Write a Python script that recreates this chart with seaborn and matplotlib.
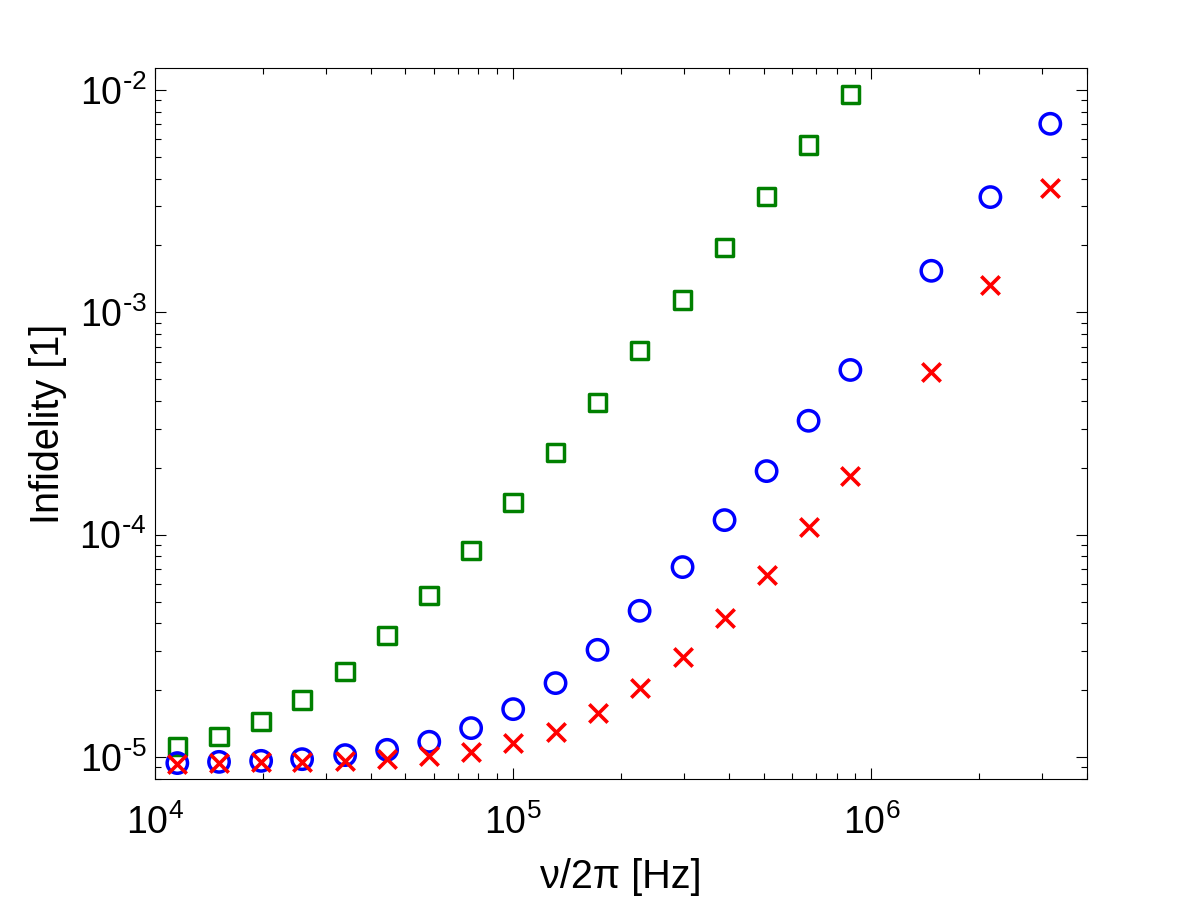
import numpy as np
import pandas as pd
import matplotlib
matplotlib.use("Agg")
import matplotlib.pyplot as plt
from matplotlib.ticker import FuncFormatter
import seaborn as sns

# frequencies nu/2pi [Hz]
freq = [1.154e4, 1.509e4, 1.978e4, 2.574e4, 3.395e4, 4.446e4, 5.83e4, 7.63e4,
        1.0e5, 1.313e5, 1.72e5, 2.254e5, 2.971e5, 3.892e5, 5.1e5, 6.68e5,
        8.74e5, 1.471e6, 2.15e6, 3.16e6]

# green squares (stop at 8.74e5)
infid_square = [1.115e-5, 1.237e-5, 1.444e-5, 1.808e-5, 2.424e-5, 3.521e-5,
                5.33e-5, 8.49e-5, 1.396e-4, 2.343e-4, 3.93e-4, 6.74e-4,
                1.14e-3, 1.958e-3, 3.32e-3, 5.67e-3, 9.53e-3]

# blue circles
infid_circle = [9.39e-6, 9.51e-6, 9.61e-6, 9.78e-6, 1.020e-5, 1.077e-5,
                1.171e-5, 1.349e-5, 1.642e-5, 2.15e-5, 3.034e-5, 4.546e-5,
                7.15e-5, 1.163e-4, 1.932e-4, 3.254e-4, 5.507e-4, 1.538e-3,
                3.30e-3, 7.05e-3]

# red crosses
infid_cross = [9.32e-6, 9.39e-6, 9.45e-6, 9.51e-6, 9.61e-6, 9.78e-6,
               1.012e-5, 1.058e-5, 1.155e-5, 1.302e-5, 1.575e-5, 2.042e-5,
               2.83e-5, 4.214e-5, 6.60e-5, 1.082e-4, 1.827e-4, 5.42e-4,
               1.331e-3, 3.62e-3]

sns.set_style("ticks", {"xtick.direction": "in", "ytick.direction": "in"})
plt.rcParams["font.family"] = ["Liberation Sans", "DejaVu Sans"]
plt.rcParams["axes.unicode_minus"] = False
plt.rcParams["mathtext.default"] = "regular"
plt.rcParams["text.color"] = "black"
plt.rcParams["axes.labelcolor"] = "black"

df_sq = pd.DataFrame({"x": freq[:len(infid_square)], "y": infid_square})
df_ci = pd.DataFrame({"x": freq, "y": infid_circle})
df_cr = pd.DataFrame({"x": freq, "y": infid_cross})

fig = plt.figure(figsize=(12, 9), dpi=100)
ax = fig.add_axes([0.1292, 0.1344, 0.7766, 0.79])

sns.scatterplot(data=df_sq, x="x", y="y", ax=ax, marker="s", s=160,
                facecolors="none", edgecolors=(0, 0.5, 0), linewidths=2.5)
sns.scatterplot(data=df_ci, x="x", y="y", ax=ax, marker="o", s=215,
                facecolors="none", edgecolors=(0, 0, 1), linewidths=2.5)
sns.scatterplot(data=df_cr, x="x", y="y", ax=ax, marker="x", s=175,
                color=(1, 0, 0), linewidths=2.6)

ax.set_xscale("log")
ax.set_yscale("log")
ax.set_xlim(1e4, 4e6)
ax.set_ylim(7.96e-6, 1.256e-2)


def pow10(v, pos):
    e = int(round(np.log10(v)))
    if e < 0:
        return r"$10^{\text{-}%d}$" % (-e)
    return r"$10^{%d}$" % e


ax.xaxis.set_major_formatter(FuncFormatter(pow10))
ax.yaxis.set_major_formatter(FuncFormatter(pow10))

for sp in ax.spines.values():
    sp.set_linewidth(0.8)
    sp.set_color("black")
ax.tick_params(which="both", direction="in", top=True, right=True,
               width=0.8, colors="black", labelsize=27)
ax.tick_params(which="major", length=8)
ax.tick_params(which="minor", length=4)
ax.tick_params(axis="x", which="major", pad=18)
ax.tick_params(axis="y", which="major", pad=6)

ax.set_xlabel("ν/2π [Hz]", fontsize=28.5, labelpad=12, color="black")
ax.set_ylabel("Infidelity [1]", fontsize=28.5, labelpad=9, color="black")

fig.savefig("out.png", dpi=100)
